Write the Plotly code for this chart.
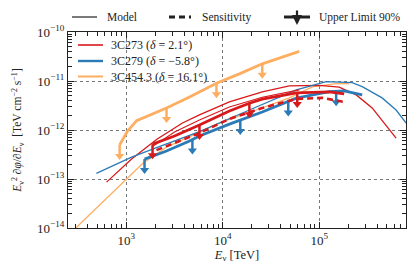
import numpy as np
import plotly.graph_objects as go

# ---------------- data ----------------
sources = ["3C273", "3C279", "3C454.3"]
declinations = ["2.1", "−5.8", "16.1"]
colors = {"3C273": "#d7191c", "3C279": "#2c7bb6", "3C454.3": "#fdae61"}

# Model (thin lines)
e_model_273 = [625, 1135, 2056, 3819, 5728, 11700, 25640, 48870, 99770, 160700, 241000, 352400, 623700]
f_model_273 = [8.63e-14, 2.55e-13, 6.40e-13, 1.39e-12, 2.03e-12, 3.74e-12, 6.0e-12, 7.96e-12, 8.15e-12, 7.48e-12, 5.2e-12, 2.82e-12, 6.85e-13]
e_model_273b = [1828, 3162, 5728, 11700, 25640, 61940]
f_model_273b = [4.47e-13, 9.06e-13, 1.6e-12, 2.96e-12, 4.68e-12, 6.59e-12]
e_model_279 = [490, 1135, 1963, 5728, 18840, 57680, 117800, 218800, 278000, 446700, 623700, 792500]
f_model_279 = [1.30e-13, 2.8e-13, 4.22e-13, 9.23e-13, 2.56e-12, 6.59e-12, 9.75e-12, 9.29e-12, 7.69e-12, 4.52e-12, 2.56e-12, 1.39e-12]
e_model_454 = [300, 1486, 2612, 5728, 9908, 22230, 48870, 84530, 142600, 203700]
f_model_454 = [1.0e-14, 2.09e-13, 4.49e-13, 9.1e-13, 1.46e-12, 2.56e-12, 4.52e-12, 7.59e-12, 8.75e-12, 8.9e-12]

# Sensitivity (dashed)
e_sens_273 = [2056, 5728, 11700, 25640, 57680, 107200, 180700]
f_sens_273 = [3.89e-13, 8.67e-13, 1.68e-12, 2.82e-12, 4.32e-12, 4.52e-12, 3.74e-12]

# Upper limit 90% (thick)
e_ul_273 = [1871, 3162, 5728, 11700, 18840, 25640, 57680, 126500, 180700]
f_ul_273 = [5.15e-13, 7.53e-13, 1.26e-12, 2.45e-12, 3.52e-12, 4.26e-12, 5.71e-12, 6.0e-12, 5.46e-12]
e_ul_279 = [1545, 2612, 4519, 5728, 11700, 25640, 57680, 126500, 180700, 278000]
f_ul_279 = [2.55e-13, 3.72e-13, 5.96e-13, 7.53e-13, 1.32e-12, 2.33e-12, 4.46e-12, 6.08e-12, 6.28e-12, 5.2e-12]
e_ul_454 = [853, 1030, 1279, 1871, 2612, 4519, 8590, 14860, 25640, 61940]
f_ul_454 = [4.93e-13, 9.5e-13, 1.55e-12, 2.12e-12, 2.82e-12, 4.73e-12, 9.04e-12, 1.4e-11, 2.24e-11, 4.01e-11]

# Energies at which upper-limit arrows are drawn
e_arrow_273 = [1871, 5728, 18840, 59020]
e_arrow_279 = [1545, 4840, 15170, 47640, 149300]
e_arrow_454 = [853, 2612, 8590, 25640]

x_ticks = [1e3, 1e4, 1e5]
x_ticktext = ["10<sup>3</sup>", "10<sup>4</sup>", "10<sup>5</sup>"]
y_ticks = [1e-14, 1e-13, 1e-12, 1e-11, 1e-10]
y_ticktext = ["10<sup>−14</sup>", "10<sup>−13</sup>", "10<sup>−12</sup>", "10<sup>−11</sup>", "10<sup>−10</sup>"]

# ---------------- layout constants ----------------
# The page body has an 8px default margin, so the figure is made smaller
# and every reference pixel position is shifted by OFF.
OFF = 8
W, H = 415 - 2 * OFF, 272 - 2 * OFF
ML, MT = 68 - OFF, 32 - OFF
MR = 415 - OFF - 406          # plot right edge at x=406 in the window
MB = (272 - OFF) - (228 - OFF) - OFF  # plot bottom edge at y=228 in the window
FONT = "Liberation Serif, DejaVu Serif, serif"
ARROW_DEC = 0.3  # arrow length in decades


def px_x(px):
    return (px - OFF - ML) / (W - ML - MR)


def px_y(py):
    return 1 - (py - OFF - MT) / (H - MT - MB)


fig = go.Figure()

model = {
    "3C273": (e_model_273, f_model_273),
    "3C279": (e_model_279, f_model_279),
    "3C454.3": (e_model_454, f_model_454),
}
ul = {
    "3C273": (e_ul_273, f_ul_273, e_arrow_273),
    "3C279": (e_ul_279, f_ul_279, e_arrow_279),
    "3C454.3": (e_ul_454, f_ul_454, e_arrow_454),
}
names = {s: f"{s} (<i>δ</i> = {d}°)" for s, d in zip(sources, declinations)}

# thin model lines (orange first, beneath)
for src in ["3C454.3", "3C273", "3C279"]:
    e, f = model[src]
    fig.add_trace(go.Scatter(x=e, y=f, mode="lines", line=dict(color=colors[src], width=1.3),
                             name=names[src], showlegend=False, hoverinfo="skip"))
fig.add_trace(go.Scatter(x=e_model_273b, y=f_model_273b, mode="lines",
                         line=dict(color=colors["3C273"], width=1.1), showlegend=False, hoverinfo="skip"))

# thick upper limits with arrows
for src in ["3C454.3", "3C279", "3C273"]:
    e, f, ea = ul[src]
    fig.add_trace(go.Scatter(x=e, y=f, mode="lines", line=dict(color=colors[src], width=2.8),
                             showlegend=False, hoverinfo="skip"))
    fa = 10 ** np.interp(np.log10(ea), np.log10(e), np.log10(f))
    xs, ys = [], []
    for xe, yf in zip(ea, fa):
        xs += [xe, xe, None]
        ys += [yf, yf * 10 ** (-ARROW_DEC + 0.08), None]
    fig.add_trace(go.Scatter(x=xs, y=ys, mode="lines", line=dict(color=colors[src], width=2.5),
                             showlegend=False, hoverinfo="skip"))
    fig.add_trace(go.Scatter(x=list(ea), y=list(fa * 10 ** (-ARROW_DEC + 0.075)), mode="markers",
                             marker=dict(symbol="triangle-down", size=8, color=colors[src],
                                         line=dict(width=0)),
                             showlegend=False, hoverinfo="skip"))

# sensitivity dashed
fig.add_trace(go.Scatter(x=e_sens_273, y=f_sens_273, mode="lines",
                         line=dict(color=colors["3C273"], width=2.6, dash="6px,4px"),
                         showlegend=False, hoverinfo="skip"))

axis_common = dict(
    type="log", showline=True, linecolor="#222", linewidth=1.3, mirror="allticks",
    ticks="inside", ticklen=6, tickwidth=1, tickcolor="#222",
    showgrid=True, gridcolor="#777", griddash="dot", gridwidth=1,
    zeroline=False, automargin=False,
    tickfont=dict(family=FONT, size=13, color="#222"),
)

minor_x = [m * 10 ** k for k in range(2, 6) for m in range(2, 10)]
minor_y = [m * 10.0 ** k for k in range(-14, -10) for m in range(2, 10)]

fig.update_xaxes(**axis_common, range=[np.log10(249), np.log10(7.9e5)],
                 tickvals=x_ticks, ticktext=x_ticktext,
                 minor=dict(tickvals=minor_x, ticks="inside", ticklen=3.5, tickwidth=1,
                            tickcolor="#222", showgrid=False),
                 title=dict(text="<i>E</i><sub>ν</sub> [TeV]", font=dict(family=FONT, size=12.5, color="#222"),
                            standoff=0))
fig.update_yaxes(**axis_common, range=[-14, -10],
                 tickvals=y_ticks, ticktext=y_ticktext,
                 minor=dict(tickvals=minor_y, ticks="inside", ticklen=3.5, tickwidth=1,
                            tickcolor="#222", showgrid=False),
                 title=dict(text="<i>E</i><sub>ν</sub><sup>2</sup> ∂<i>φ</i>/∂<i>E</i><sub>ν</sub>  [TeV cm<sup>−2</sup> s<sup>−1</sup>]",
                            font=dict(family=FONT, size=11.5, color="#222"), standoff=12))

# top legend (outside the axes) and inner source legend, drawn manually
ly = px_y(17)
tfont = dict(family=FONT, size=11.5, color="#222")
shapes = [
    dict(type="line", xref="paper", yref="paper", x0=px_x(72), x1=px_x(97), y0=ly, y1=ly,
         line=dict(color="#222", width=1.2)),
    dict(type="line", xref="paper", yref="paper", x0=px_x(169), x1=px_x(191), y0=ly, y1=ly,
         line=dict(color="#222", width=3, dash="6px,4px")),
    dict(type="line", xref="paper", yref="paper", x0=px_x(284), x1=px_x(310), y0=ly, y1=ly,
         line=dict(color="#222", width=3)),
]
annotations = [
    dict(xref="paper", yref="paper", x=px_x(105), y=ly, text="Model", showarrow=False,
         xanchor="left", yanchor="middle", font=tfont),
    dict(xref="paper", yref="paper", x=px_x(200), y=ly, text="Sensitivity", showarrow=False,
         xanchor="left", yanchor="middle", font=tfont),
    dict(xref="paper", yref="paper", x=px_x(317), y=ly, text="Upper Limit 90%", showarrow=False,
         xanchor="left", yanchor="middle", font=tfont),
    dict(xref="paper", yref="paper", x=px_x(297), y=px_y(25), ax=0, ay=-16, text="",
         showarrow=True, arrowhead=2, arrowsize=0.9, arrowwidth=2.2, arrowcolor="#222"),
]
for src, row_y, w in zip(sources, [45, 61, 76.5], [1.6, 2.4, 2.0]):
    yy = px_y(row_y)
    shapes.append(dict(type="line", xref="paper", yref="paper", x0=px_x(78), x1=px_x(103),
                       y0=yy, y1=yy, line=dict(color=colors[src], width=w)))
    annotations.append(dict(xref="paper", yref="paper", x=px_x(109), y=yy, text=names[src],
                            showarrow=False, xanchor="left", yanchor="middle",
                            font=dict(family=FONT, size=12, color="#222")))

fig.update_layout(
    width=W, height=H, margin=dict(l=ML, r=MR, t=MT, b=MB, autoexpand=False),
    paper_bgcolor="white", plot_bgcolor="white",
    shapes=shapes, annotations=annotations, showlegend=False,
    font=dict(family=FONT),
)

fig.write_html("out.html")
